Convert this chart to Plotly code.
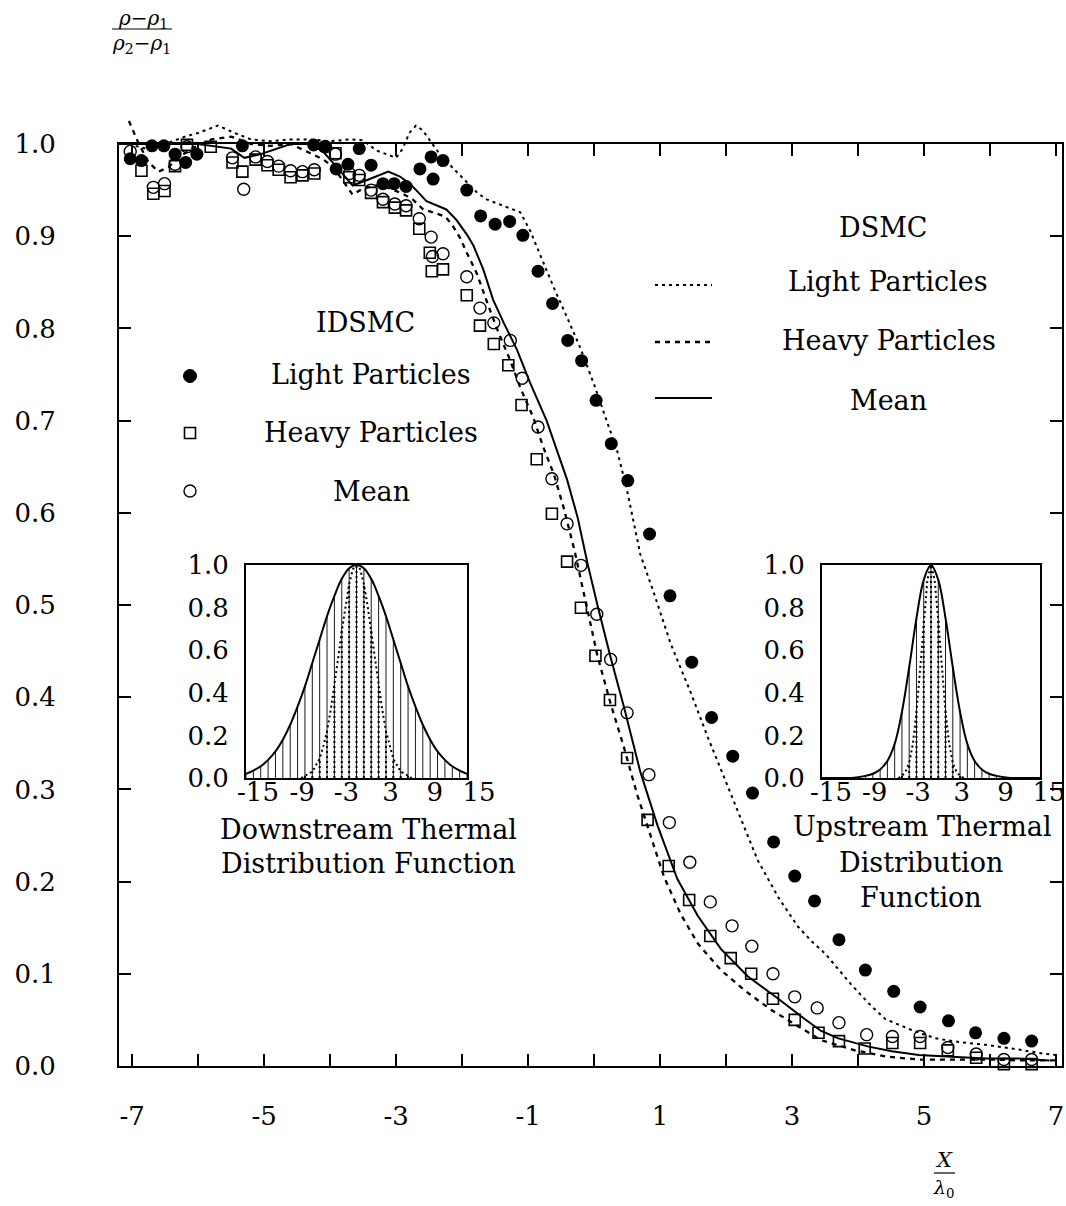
import plotly.graph_objects as go

FONT = "DejaVu Serif"

# ---------------- IDSMC results (symbols) ----------------
idsmc_light_x = [-7.03, -6.86, -6.70, -6.52, -6.35, -6.19, -6.02, -5.97, -5.81, -5.48, -5.33, -5.15,
                 -4.95, -4.78, -4.60, -4.42, -4.25, -4.09, -3.91, -3.73, -3.56, -3.38, -3.20, -3.03,
                 -2.85, -2.64, -2.47, -2.44, -2.29, -1.93, -1.72, -1.50, -1.28, -1.08, -0.85, -0.63,
                 -0.40, -0.19, 0.03, 0.26, 0.51, 0.84, 1.15, 1.48, 1.78, 2.10, 2.40, 2.72, 3.04, 3.34,
                 3.71, 4.11, 4.54, 4.94, 5.37, 5.78, 6.21, 6.63]
idsmc_light_y = [0.984, 0.982, 0.998, 0.998, 0.989, 0.980, 0.989, 1.025, 1.019, 1.011, 0.998, 1.004,
                 1.006, 1.006, 1.016, 1.018, 0.999, 0.997, 0.973, 0.978, 0.995, 0.977, 0.957, 0.957,
                 0.954, 0.973, 0.986, 0.962, 0.982, 0.950, 0.922, 0.913, 0.916, 0.901, 0.862, 0.827,
                 0.787, 0.765, 0.722, 0.675, 0.635, 0.577, 0.510, 0.438, 0.378, 0.336, 0.296, 0.243,
                 0.206, 0.179, 0.137, 0.104, 0.081, 0.064, 0.049, 0.036, 0.030, 0.027]

idsmc_heavy_x = [-6.86, -6.68, -6.51, -6.35, -6.17, -5.98, -5.81, -5.48, -5.33, -5.13, -4.95, -4.78,
                 -4.60, -4.42, -4.24, -4.07, -3.92, -3.71, -3.56, -3.38, -3.20, -3.02, -2.85, -2.65,
                 -2.49, -2.46, -2.29, -1.93, -1.73, -1.52, -1.30, -1.10, -0.87, -0.64, -0.41, -0.20,
                 0.02, 0.24, 0.50, 0.81, 1.13, 1.44, 1.76, 2.07, 2.38, 2.71, 3.04, 3.40, 3.71, 4.10,
                 4.52, 4.94, 5.36, 5.79, 6.21, 6.63]
idsmc_heavy_y = [0.971, 0.946, 0.949, 0.976, 0.999, 1.001, 0.997, 0.980, 0.970, 0.983, 0.977, 0.972,
                 0.964, 0.966, 0.968, 1.001, 0.990, 0.964, 0.961, 0.947, 0.937, 0.931, 0.928, 0.908,
                 0.882, 0.862, 0.864, 0.836, 0.803, 0.783, 0.760, 0.717, 0.658, 0.599, 0.547, 0.497,
                 0.445, 0.397, 0.334, 0.267, 0.217, 0.180, 0.141, 0.117, 0.100, 0.073, 0.050, 0.036,
                 0.027, 0.019, 0.025, 0.025, 0.017, 0.009, 0.002, 0.002]

idsmc_mean_x = [-7.03, -6.68, -6.51, -6.35, -6.17, -5.98, -5.81, -5.48, -5.31, -5.13, -4.95, -4.78,
                -4.60, -4.42, -4.24, -4.07, -3.92, -3.71, -3.56, -3.38, -3.20, -3.02, -2.85, -2.65,
                -2.47, -2.45, -2.29, -1.93, -1.73, -1.52, -1.27, -1.09, -0.85, -0.64, -0.41, -0.20,
                0.04, 0.25, 0.50, 0.83, 1.14, 1.45, 1.76, 2.09, 2.39, 2.71, 3.04, 3.38, 3.71, 4.13,
                4.52, 4.94, 5.36, 5.79, 6.21, 6.63]
idsmc_mean_y = [0.992, 0.953, 0.957, 0.978, 0.997, 1.004, 1.001, 0.985, 0.951, 0.986, 0.981, 0.976,
                0.971, 0.970, 0.972, 0.997, 0.989, 0.968, 0.966, 0.950, 0.940, 0.935, 0.933, 0.919,
                0.899, 0.878, 0.881, 0.856, 0.822, 0.806, 0.787, 0.746, 0.693, 0.637, 0.588, 0.543,
                0.490, 0.441, 0.383, 0.316, 0.264, 0.221, 0.178, 0.152, 0.130, 0.100, 0.075, 0.063,
                0.047, 0.034, 0.032, 0.032, 0.020, 0.013, 0.007, 0.007]

# ---------------- DSMC results (lines) ----------------
dsmc_light_x = [-7.05, -6.8, -6.5, -6.2, -6.0, -5.7, -5.45, -5.2, -4.9, -4.6, -4.3, -4.0, -3.7,
                -3.5, -3.3, -3.0, -2.9, -2.8, -2.7, -2.6, -2.49, -2.32, -1.99, -1.77, -1.63, -1.12,
                -0.97, -0.82, -0.61, -0.41, -0.21, 0.0, 0.20, 0.35, 0.50, 0.70, 0.91, 1.16, 1.47,
                1.72, 1.97, 2.23, 2.48, 2.79, 3.09, 3.30, 3.50, 3.70, 3.90, 4.16, 4.41, 4.81, 5.17,
                5.53, 5.93, 6.33, 6.84, 7.0]
dsmc_light_y = [1.0, 0.995, 1.0, 1.008, 1.012, 1.02, 1.012, 1.005, 1.003, 1.005, 1.005, 1.003,
                1.005, 1.004, 0.993, 0.985, 0.995, 1.012, 1.02, 1.015, 1.004, 0.987, 0.963, 0.947,
                0.94, 0.926, 0.906, 0.88, 0.844, 0.812, 0.779, 0.739, 0.699, 0.667, 0.624, 0.555,
                0.512, 0.458, 0.404, 0.357, 0.313, 0.266, 0.223, 0.183, 0.151, 0.135, 0.122, 0.105,
                0.088, 0.068, 0.051, 0.039, 0.030, 0.026, 0.023, 0.019, 0.013, 0.012]

dsmc_heavy_x = [-7.05, -6.9, -6.75, -6.6, -6.45, -6.3, -6.1, -5.8, -5.5, -5.2, -4.9, -4.6, -4.3,
                -4.1, -3.95, -3.8, -3.66, -3.5, -3.3, -3.1, -2.9, -2.75, -2.59, -2.4, -2.25, -2.14,
                -2.03, -1.93, -1.78, -1.63, -1.48, -1.27, -1.12, -0.92, -0.77, -0.61, -0.46, -0.3,
                -0.12, 0.05, 0.25, 0.45, 0.65, 0.86, 1.06, 1.31, 1.57, 1.92, 2.28, 2.68, 3.09, 3.44,
                3.95, 4.45, 4.93, 5.5, 6.0, 6.5, 7.0]
dsmc_heavy_y = [1.025, 1.0, 0.98, 0.97, 0.975, 0.985, 0.995, 1.005, 1.008, 1.0, 0.998, 1.0, 0.99,
                0.983, 0.975, 0.96, 0.945, 0.952, 0.955, 0.952, 0.946, 0.94, 0.929, 0.925, 0.921,
                0.911, 0.898, 0.882, 0.86, 0.83, 0.801, 0.765, 0.736, 0.703, 0.671, 0.642, 0.605,
                0.56, 0.50, 0.445, 0.393, 0.346, 0.295, 0.248, 0.205, 0.165, 0.133, 0.104, 0.082,
                0.061, 0.043, 0.028, 0.017, 0.010, 0.007, 0.007, 0.007, 0.006, 0.006]

dsmc_mean_x = [-7.23, -6.0, -5.5, -5.3, -5.05, -4.8, -4.6, -4.3, -4.11, -3.9, -3.66, -3.4, -3.12,
               -2.95, -2.79, -2.54, -2.24, -2.09, -1.93, -1.83, -1.68, -1.53, -1.37, -1.17, -0.97,
               -0.72, -0.56, -0.41, -0.25, -0.1, 0.05, 0.25, 0.45, 0.70, 0.96, 1.26, 1.57, 1.92,
               2.33, 2.79, 3.19, 3.44, 3.7, 4.16, 4.51, 4.92, 5.42, 5.93, 6.44, 6.9]
dsmc_mean_y = [1.0, 1.0, 0.995, 0.985, 0.989, 0.995, 1.0, 1.0, 0.992, 0.975, 0.955, 0.962, 0.970,
               0.965, 0.957, 0.938, 0.929, 0.918, 0.902, 0.89, 0.864, 0.831, 0.806, 0.777, 0.741,
               0.700, 0.668, 0.636, 0.595, 0.545, 0.500, 0.443, 0.390, 0.319, 0.261, 0.203, 0.163,
               0.127, 0.097, 0.073, 0.051, 0.038, 0.030, 0.021, 0.016, 0.012, 0.010, 0.008, 0.008,
               0.006]

# ---------------- thermal distribution functions (insets) ----------------
down_wide_x = list(range(-15, 16))
down_wide_f = [0.02, 0.035, 0.055, 0.085, 0.125, 0.18, 0.25, 0.335, 0.43, 0.54, 0.65, 0.76, 0.855,
               0.935, 0.985, 1.0, 0.985, 0.935, 0.855, 0.76, 0.65, 0.54, 0.43, 0.335, 0.25, 0.18,
               0.125, 0.085, 0.055, 0.035, 0.02]
down_narrow_x = [v / 2 for v in range(-15, 16)]
down_narrow_f = [0.0, 0.01, 0.02, 0.03, 0.06, 0.09, 0.15, 0.22, 0.32, 0.43, 0.56, 0.69, 0.81, 0.91,
                 0.98, 1.0, 0.98, 0.91, 0.81, 0.69, 0.56, 0.43, 0.32, 0.22, 0.15, 0.09, 0.06, 0.03,
                 0.02, 0.01, 0.0]

up_wide_x = list(range(-15, 16))
up_wide_f = [0.0, 0.0, 0.0, 0.0, 0.0, 0.004, 0.01, 0.02, 0.04, 0.08, 0.16, 0.31, 0.52, 0.75, 0.93,
             1.0, 0.93, 0.75, 0.52, 0.31, 0.16, 0.08, 0.04, 0.02, 0.01, 0.004, 0.0, 0.0, 0.0, 0.0,
             0.0]
up_narrow_x = [v / 2 for v in range(-9, 10)]
up_narrow_f = [0.0, 0.01, 0.03, 0.07, 0.16, 0.31, 0.51, 0.74, 0.93, 1.0, 0.93, 0.74, 0.51, 0.31,
               0.16, 0.07, 0.03, 0.01, 0.0]

x_ticks = list(range(-7, 8))
x_ticktext = [f"{v}" if v % 2 else "" for v in x_ticks]
y_ticks = [i / 10 for i in range(11)]
inset_xticks = [-15, -9, -3, 3, 9, 15]
inset_yticks = [0.0, 0.2, 0.4, 0.6, 0.8, 1.0]

# ---------------- page geometry (pixels) ----------------
W, H = 1066, 1206
L, R, T, B = 119, 1062, 100, 1066      # plotting region
FRAME_TOP = 144                        # pixel row of the 1.0 level
PW, PH = R - L, B - T


def xp(px):
    return (px - L) / PW


def yp(py):
    return (B - py) / PH


main_top = yp(FRAME_TOP)
over_range = [0, 1.0 / main_top]

fig = go.Figure()

# DSMC curves (drawn on an overlay axis so that they may rise above the 1.0 frame)
fig.add_trace(go.Scatter(x=dsmc_light_x, y=dsmc_light_y, mode="lines", xaxis="x", yaxis="y5",
                         line=dict(color="black", width=2, dash="3px,4px")))
fig.add_trace(go.Scatter(x=dsmc_heavy_x, y=dsmc_heavy_y, mode="lines", xaxis="x", yaxis="y5",
                         line=dict(color="black", width=2.3, dash="5px,5px")))
fig.add_trace(go.Scatter(x=dsmc_mean_x, y=dsmc_mean_y, mode="lines", xaxis="x", yaxis="y5",
                         line=dict(color="black", width=2)))

# IDSMC symbols (main axes; not clipped so values above 1.0 stay visible)
fig.add_trace(go.Scatter(x=idsmc_heavy_x, y=idsmc_heavy_y, mode="markers", xaxis="x", yaxis="y",
                         cliponaxis=False,
                         marker=dict(symbol="square-open", size=11, color="black",
                                     line=dict(width=1.6, color="black"))))
fig.add_trace(go.Scatter(x=idsmc_mean_x, y=idsmc_mean_y, mode="markers", xaxis="x", yaxis="y",
                         cliponaxis=False,
                         marker=dict(symbol="circle-open", size=12, color="black",
                                     line=dict(width=1.4, color="black"))))
fig.add_trace(go.Scatter(x=idsmc_light_x, y=idsmc_light_y, mode="markers", xaxis="x", yaxis="y",
                         cliponaxis=False,
                         marker=dict(symbol="circle", size=13, color="black",
                                     line=dict(width=0))))


def stems(xs, fs):
    sx, sy = [], []
    for x, f in zip(xs, fs):
        if f > 0:
            sx += [x, x, None]
            sy += [0, f, None]
    return sx, sy


def add_inset(xa, ya, wide_x, wide_f, narrow_x, narrow_f):
    hx, hy = stems(wide_x, wide_f)
    fig.add_trace(go.Scatter(x=hx, y=hy, mode="lines", xaxis=xa, yaxis=ya,
                             line=dict(color="black", width=0.9)))
    nx, ny = stems(narrow_x[1::2], narrow_f[1::2])
    fig.add_trace(go.Scatter(x=nx, y=ny, mode="lines", xaxis=xa, yaxis=ya,
                             line=dict(color="black", width=2, dash="2px,3px")))
    fig.add_trace(go.Scatter(x=narrow_x, y=narrow_f, mode="lines", xaxis=xa, yaxis=ya,
                             line=dict(color="black", width=2, dash="2px,3px")))
    fig.add_trace(go.Scatter(x=wide_x, y=wide_f, mode="lines", xaxis=xa, yaxis=ya,
                             line=dict(color="black", width=2, shape="spline")))


add_inset("x2", "y2", down_wide_x, down_wide_f, down_narrow_x, down_narrow_f)
add_inset("x3", "y3", up_wide_x, up_wide_f, up_narrow_x, up_narrow_f)

tick_font = dict(family=FONT, size=26, color="black")
main_axis = dict(showline=True, linecolor="black", linewidth=2, mirror="ticks",
                 ticks="inside", ticklen=12, tickwidth=1.5, tickcolor="black",
                 showgrid=False, zeroline=False, tickfont=tick_font, automargin=False,
                 ticklabeloverflow="allow")
inset_axis = dict(showline=True, linecolor="black", linewidth=2, mirror=True, ticks="",
                  showgrid=False, zeroline=False, tickfont=tick_font, fixedrange=True,
                  automargin=False, ticklabeloverflow="allow")

inset1_x = [xp(246), xp(467)]
inset2_x = [xp(822), xp(1040)]
inset_y = [yp(778), yp(565)]

fig.update_layout(
    width=W, height=H, autosize=False,
    margin=dict(l=L, r=W - R, t=T, b=H - B, autoexpand=False),
    paper_bgcolor="white", plot_bgcolor="rgba(0,0,0,0)",
    showlegend=False,
    font=dict(family=FONT, color="black"),
    xaxis=dict(main_axis, domain=[0, 1], range=[-7.2, 7.09], anchor="y",
               tickvals=x_ticks, ticktext=x_ticktext, ticklabelstandoff=26,
               ticklabelshift=0),
    yaxis=dict(main_axis, domain=[0, main_top], range=[0, 1.0], anchor="x",
               tickvals=y_ticks, tickformat=".1f", ticklabelstandoff=56),
    yaxis5=dict(domain=[0, 1], range=over_range, anchor="x", visible=False,
                automargin=False),
    xaxis2=dict(inset_axis, domain=inset1_x, range=[-15, 15], anchor="y2",
                tickvals=inset_xticks, ticktext=[str(v) for v in inset_xticks],
                ticklabelshift=12, ticklabelstandoff=-10),
    yaxis2=dict(inset_axis, domain=inset_y, range=[0, 1], anchor="x2",
                tickvals=inset_yticks, tickformat=".1f", ticklabelstandoff=10),
    xaxis3=dict(inset_axis, domain=inset2_x, range=[-15, 15], anchor="y3",
                tickvals=inset_xticks, ticktext=[str(v) for v in inset_xticks],
                ticklabelshift=9, ticklabelstandoff=-10),
    yaxis3=dict(inset_axis, domain=inset_y, range=[0, 1], anchor="x3",
                tickvals=inset_yticks, tickformat=".1f", ticklabelstandoff=10),
)


def label(text, px, py, size=27):
    fig.add_annotation(text=text, x=xp(px), y=yp(py), xref="paper", yref="paper",
                       showarrow=False, xanchor="center", yanchor="middle",
                       font=dict(family=FONT, size=size, color="black"))


# IDSMC legend
label("IDSMC", 365, 322)
label("Light Particles", 371, 375)
label("Heavy Particles", 371, 432)
label("Mean", 371, 491)
# DSMC legend
label("DSMC", 883, 228)
label("Light Particles", 888, 282)
label("Heavy Particles", 889, 340)
label("Mean", 888, 400)
# inset captions
label("Downstream Thermal", 368, 829)
label("Distribution Function", 368, 863)
label("Upstream Thermal", 922, 826)
label("Distribution", 921, 862)
label("Function", 921, 897)

# axis titles written as stacked fractions
label("<i>ρ</i>−<i>ρ</i><sub>1</sub>", 143, 19, size=20)
label("<i>ρ</i><sub>2</sub>−<i>ρ</i><sub>1</sub>", 141, 44, size=20)
label("<i>X</i>", 944, 1160, size=21)
label("<i>λ</i><sub>0</sub>", 944, 1188, size=19)

shapes = [
    dict(type="line", xref="paper", yref="paper", x0=xp(112), x1=xp(172), y0=yp(29), y1=yp(29),
         line=dict(color="black", width=1.2)),
    dict(type="line", xref="paper", yref="paper", x0=xp(934), x1=xp(955), y0=yp(1173),
         y1=yp(1173), line=dict(color="black", width=1.2)),
    # legend symbols
    dict(type="circle", xref="paper", yref="paper", x0=xp(183.5), x1=xp(196.5), y0=yp(382.5),
         y1=yp(369.5), fillcolor="black", line=dict(color="black", width=1)),
    dict(type="rect", xref="paper", yref="paper", x0=xp(184.5), x1=xp(195.5), y0=yp(438.5),
         y1=yp(427.5), line=dict(color="black", width=1.6)),
    dict(type="circle", xref="paper", yref="paper", x0=xp(184), x1=xp(196), y0=yp(497),
         y1=yp(485), line=dict(color="black", width=1.4)),
    # legend line samples
    dict(type="line", xref="paper", yref="paper", x0=xp(655), x1=xp(712), y0=yp(285), y1=yp(285),
         line=dict(color="black", width=2, dash="3px,4px")),
    dict(type="line", xref="paper", yref="paper", x0=xp(655), x1=xp(712), y0=yp(342), y1=yp(342),
         line=dict(color="black", width=2.3, dash="5px,5px")),
    dict(type="line", xref="paper", yref="paper", x0=xp(655), x1=xp(712), y0=yp(398), y1=yp(398),
         line=dict(color="black", width=2)),
]
fig.update_layout(shapes=shapes)

fig.write_html("out.html")
